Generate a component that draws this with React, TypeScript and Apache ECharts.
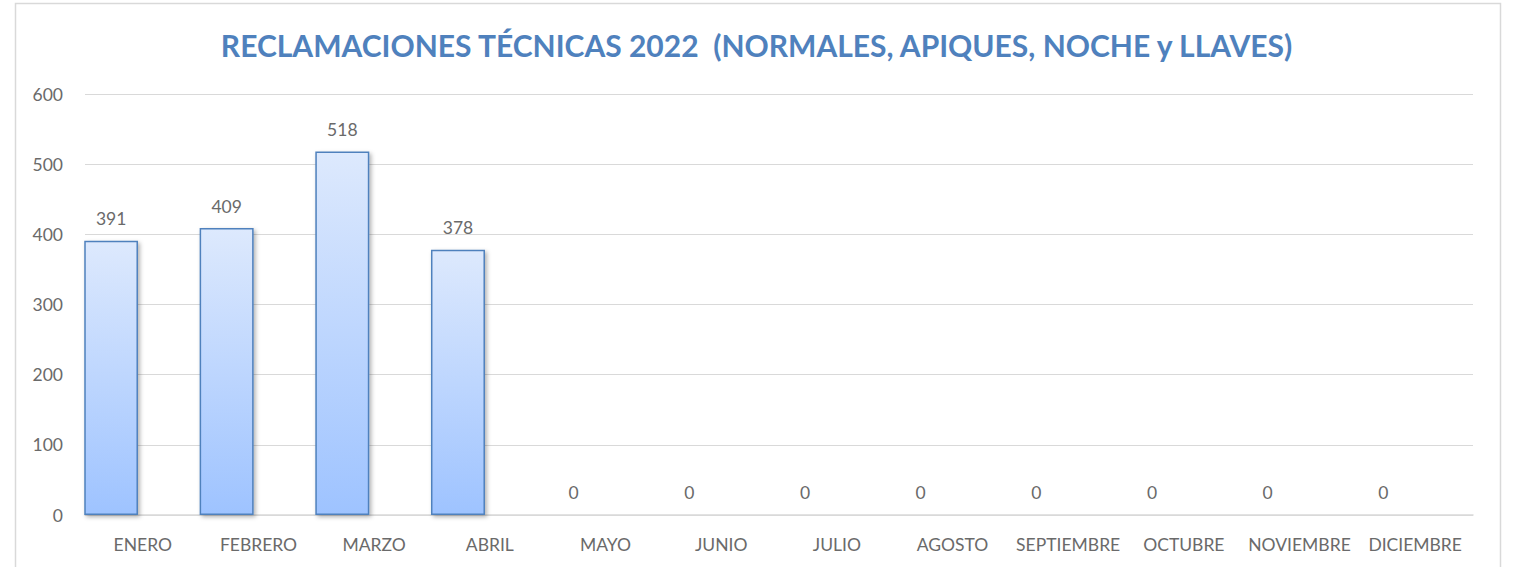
import React, { useEffect, useRef } from "react";
import * as echarts from "echarts";

const categories = ["ENERO", "FEBRERO", "MARZO", "ABRIL", "MAYO", "JUNIO", "JULIO", "AGOSTO", "SEPTIEMBRE", "OCTUBRE", "NOVIEMBRE", "DICIEMBRE"];
const values = [391, 409, 518, 378, 0, 0, 0, 0, 0, 0, 0, 0];
const emptySeries = [null, null, null, null, null, null, null, null, null, null, null, null];
const title = "RECLAMACIONES TÉCNICAS 2022  (NORMALES, APIQUES, NOCHE y LLAVES)";

export default function App() {
  const ref = useRef<HTMLDivElement>(null);
  useEffect(() => {
    const chart = echarts.init(ref.current!, null, { renderer: "svg" });
    const font = "Lato, 'Open Sans', sans-serif";
    const textColor = "#6a6a6a";
    chart.setOption({
      animation: false,
      backgroundColor: "#ffffff",
      graphic: [
        {
          type: "rect",
          shape: { x: 15.5, y: 3.5, width: 1485, height: 620 },
          style: { fill: "none", stroke: "#d9d9d9", lineWidth: 1.5 },
          silent: true,
        },
      ],
      title: {
        text: title,
        left: "center",
        top: 25,
        textStyle: { fontFamily: font, fontWeight: "bold", fontSize: 30, color: "#4f81bd" },
      },
      grid: { left: 85, right: 40, top: 94, bottom: 52 },
      xAxis: {
        type: "category",
        data: categories,
        axisLine: { show: true, lineStyle: { color: "#d9d9d9", width: 1.5 } },
        axisTick: { show: false },
        axisLabel: { color: textColor, fontSize: 17.5, fontFamily: font, margin: 20, interval: 0 },
      },
      yAxis: {
        type: "value",
        min: 0,
        max: 600,
        interval: 100,
        axisLine: { show: false },
        axisTick: { show: false },
        splitLine: { lineStyle: { color: "#d9d9d9", width: 1.2 } },
        axisLabel: { color: textColor, fontSize: 17.5, fontFamily: font, margin: 22 },
      },
      series: [
        {
          type: "bar",
          data: values,
          barWidth: 54,
          barGap: "18%",
          itemStyle: {
            color: new echarts.graphic.LinearGradient(0, 0, 0, 1, [
              { offset: 0, color: "#dde9fd" },
              { offset: 1, color: "#9ec3ff" },
            ]),
            borderColor: "#4f81bd",
            borderWidth: 1.5,
            shadowColor: "rgba(0,0,0,0.3)",
            shadowBlur: 4,
            shadowOffsetX: 2,
            shadowOffsetY: 2,
          },
          label: {
            show: true,
            position: "top",
            distance: 13,
            color: textColor,
            fontSize: 17.5,
            fontFamily: font,
          },
        },
        {
          type: "bar",
          data: emptySeries,
          barWidth: 54,
          silent: true,
        },
      ],
    });
    return () => chart.dispose();
  }, []);
  return <div ref={ref} style={{ position: "absolute", left: 0, top: 0, width: 1513, height: 567 }} />;
}
